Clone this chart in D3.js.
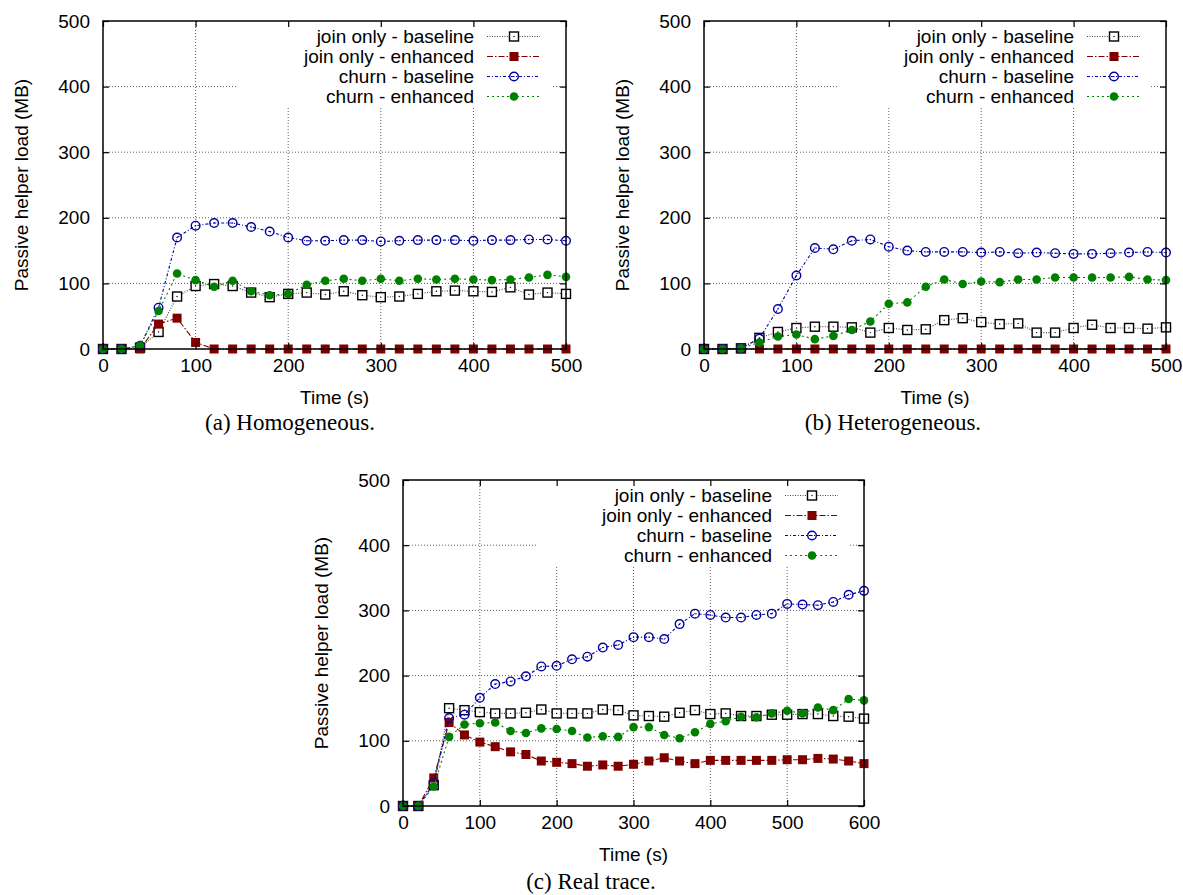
<!DOCTYPE html>
<html>
<head>
<meta charset="utf-8">
<script src="https://cdn.jsdelivr.net/npm/d3@7"></script>
<style>
  body { margin: 0; background: #fff; }
  text { font-family: "Liberation Sans", Arial, Helvetica, sans-serif; fill: #000; }
  .caption { font-family: "Liberation Serif", "Times New Roman", serif; }
</style>
</head>
<body>
<div id="chart"></div>
<script>
// time steps (s)
var timesAB = [0,20,40,60,80,100,120,140,160,180,200,220,240,260,280,300,320,340,360,380,400,420,440,460,480,500];
var timesC = [0,20,40,60,80,100,120,140,160,180,200,220,240,260,280,300,320,340,360,380,400,420,440,460,480,500,520,540,560,580,600];

var yTicks = [0,100,200,300,400,500];
var xTicksAB = [0,100,200,300,400,500];
var xTicksC = [0,100,200,300,400,500,600];

var seriesNames = ["join only - baseline", "join only - enhanced", "churn - baseline", "churn - enhanced"];

// (a) Homogeneous
var joinBaseA  = [0,0,2,26,80,96,99,96,86,79,84,86,83,88,82,79,80,84,88,89,88,87,94,83,86,84];
var joinEnhA   = [0,0,0,38,47,10,0,0,0,0,0,0,0,0,0,0,0,0,0,0,0,0,0,0,0,0];
var churnBaseA = [0,0,5,63,170,188,192,192,186,179,170,165,165,166,166,164,165,166,166,166,165,166,166,167,167,165];
var churnEnhA  = [0,0,5,58,115,105,95,104,88,82,84,98,104,107,104,107,104,107,106,107,106,105,106,109,113,110];

// (b) Heterogeneous
var joinBaseB  = [0,0,1,17,26,32,34,34,33,25,32,29,30,44,47,41,38,39,25,25,32,37,32,32,31,33];
var joinEnhB   = [0,0,0,0,0,0,0,0,0,0,0,0,0,0,0,0,0,0,0,0,0,0,0,0,0,0];
var churnBaseB = [0,0,1,16,61,112,154,152,165,167,156,150,148,148,148,147,148,146,147,146,145,145,146,147,148,147];
var churnEnhB  = [0,0,1,10,19,22,15,20,29,42,69,71,95,106,99,103,102,106,106,109,109,109,109,110,106,105];

// (c) Real trace
var joinBaseC  = [0,0,32,150,147,144,142,142,143,148,142,142,142,148,147,139,138,137,143,147,141,142,138,138,140,140,141,141,138,137,134];
var joinEnhC   = [0,0,43,128,109,98,91,83,79,69,67,65,61,63,61,64,69,74,69,65,70,70,70,70,70,71,71,73,72,69,65];
var churnBaseC = [0,0,35,135,140,166,187,191,199,214,215,225,229,243,247,259,259,256,279,295,293,289,289,293,295,310,309,308,313,324,330];
var churnEnhC  = [0,0,30,106,125,127,128,115,112,119,118,115,105,107,106,121,121,109,104,113,126,130,137,136,142,146,142,151,147,164,162];

// line / marker styles per series
var styles = [
  {color: "#000000", lineColor: "#444", dash: "1,1.5", marker: "squareOpen"},
  {color: "#800000", lineColor: "#800000", dash: "6,2,1.5,2", marker: "squareFilled"},
  {color: "#0000a0", lineColor: "#0000a0", dash: "3,2,1,2", marker: "circleOpen"},
  {color: "#008000", lineColor: "#008000", dash: "2,3", marker: "circleFilled"}
];

var svg = d3.select("#chart").append("svg")
  .attr("width", 1183)
  .attr("height", 895);

function drawMarker(g, type, color, x, y) {
  if (type == "squareOpen") {
    g.append("rect").attr("x", x - 4.5).attr("y", y - 4.5).attr("width", 9).attr("height", 9)
      .attr("fill", "#fff").attr("stroke", color).attr("stroke-width", 1.4);
    g.append("circle").attr("cx", x).attr("cy", y).attr("r", 0.7).attr("fill", color);
  } else if (type == "squareFilled") {
    g.append("rect").attr("x", x - 4.5).attr("y", y - 4.5).attr("width", 9).attr("height", 9)
      .attr("fill", color);
  } else if (type == "circleOpen") {
    g.append("circle").attr("cx", x).attr("cy", y).attr("r", 4.3)
      .attr("fill", "none").attr("stroke", color).attr("stroke-width", 1.4);
    g.append("circle").attr("cx", x).attr("cy", y).attr("r", 0.7).attr("fill", color);
  } else {
    g.append("circle").attr("cx", x).attr("cy", y).attr("r", 4.3).attr("fill", color);
  }
}

function drawPanel(p) {
  var w = p.right - p.left;
  var h = p.bottom - p.top;
  var g = svg.append("g").attr("transform", `translate(${p.left}, ${p.top})`);

  var x = d3.scaleLinear().domain([0, p.xMax]).range([0, w]);
  var y = d3.scaleLinear().domain([0, 500]).range([h, 0]);

  // grid
  g.selectAll(".gx").data(p.xTicks.slice(1, -1)).enter().append("line")
    .attr("x1", d => x(d)).attr("x2", d => x(d)).attr("y1", 0).attr("y2", h)
    .attr("stroke", "#333").attr("stroke-width", 0.8).attr("stroke-dasharray", "1,2");
  g.selectAll(".gy").data(yTicks.slice(1, -1)).enter().append("line")
    .attr("x1", 0).attr("x2", w).attr("y1", d => y(d)).attr("y2", d => y(d))
    .attr("stroke", "#333").attr("stroke-width", 0.8).attr("stroke-dasharray", "1,2");

  // legend box (opaque)
  var boxRight = w - 15;
  var boxLeft = boxRight - 313;
  g.append("rect").attr("x", boxLeft).attr("y", 0).attr("width", 313).attr("height", 85)
    .attr("fill", "#fff");

  // series
  p.series.forEach(function(vals, i) {
    var st = styles[i];
    var line = d3.line().x((d, k) => x(p.times[k])).y(d => y(d));
    g.append("path").datum(vals)
      .attr("d", line)
      .attr("fill", "none")
      .attr("stroke", st.lineColor)
      .attr("stroke-width", 1.1)
      .attr("stroke-dasharray", st.dash);
    var mg = g.append("g");
    vals.forEach(function(v, k) {
      drawMarker(mg, st.marker, st.color, x(p.times[k]), y(v));
    });
  });

  // axes with mirrored inward ticks
  var bottomAxis = d3.axisBottom(x).tickValues(p.xTicks).tickSize(-6).tickPadding(10);
  var leftAxis = d3.axisLeft(y).tickValues(yTicks).tickSize(-6).tickPadding(13);
  var topAxis = d3.axisTop(x).tickValues(p.xTicks).tickSize(-6).tickFormat("");
  var rightAxis = d3.axisRight(y).tickValues(yTicks).tickSize(-6).tickFormat("");

  [
    g.append("g").attr("transform", `translate(0, ${h})`).call(bottomAxis),
    g.append("g").call(leftAxis),
    g.append("g").call(topAxis),
    g.append("g").attr("transform", `translate(${w}, 0)`).call(rightAxis)
  ].forEach(function(a) {
    a.select(".domain").remove();
    a.selectAll("line").attr("stroke", "#000").attr("stroke-width", 1.2);
    a.selectAll("text").style("font-size", "19px").attr("fill", "#000")
      .style("font-family", '"Liberation Sans", Arial, sans-serif');
  });

  // frame
  g.append("rect").attr("x", 0).attr("y", 0).attr("width", w).attr("height", h)
    .attr("fill", "none").attr("stroke", "#000").attr("stroke-width", 1.5);

  // legend entries
  seriesNames.forEach(function(name, i) {
    var st = styles[i];
    var ly = 15.5 + i * 20;
    g.append("text").attr("x", boxLeft + 236).attr("y", ly).attr("dy", "0.35em")
      .attr("text-anchor", "end").style("font-size", "19px").text(name);
    g.append("line").attr("x1", boxLeft + 249).attr("x2", boxLeft + 302)
      .attr("y1", ly).attr("y2", ly)
      .attr("stroke", st.lineColor).attr("stroke-width", 1.1).attr("stroke-dasharray", st.dash);
    drawMarker(g, st.marker, st.color, boxLeft + 276, ly);
  });

  // axis titles
  g.append("text").attr("x", w / 2).attr("y", h + 48).attr("dy", "0.35em")
    .attr("text-anchor", "middle").style("font-size", "19px").text("Time (s)");
  g.append("text")
    .attr("transform", `translate(${p.yLabelX - p.left}, ${h / 2}) rotate(-90)`)
    .attr("dy", "0.35em").attr("text-anchor", "middle").style("font-size", "19px")
    .text("Passive helper load (MB)");

  // caption
  g.append("text").attr("class", "caption").attr("x", p.captionX - p.left).attr("y", h + p.captionDy)
    .attr("dy", "0.35em").attr("text-anchor", "middle").style("font-size", "23px")
    .text(p.caption);
}

drawPanel({left: 103, right: 566, top: 21, bottom: 349, xMax: 500, xTicks: xTicksAB, times: timesAB,
  series: [joinBaseA, joinEnhA, churnBaseA, churnEnhA], yLabelX: 21, captionX: 290, captionDy: 73,
  caption: "(a)  Homogeneous."});
drawPanel({left: 704, right: 1166, top: 21, bottom: 349, xMax: 500, xTicks: xTicksAB, times: timesAB,
  series: [joinBaseB, joinEnhB, churnBaseB, churnEnhB], yLabelX: 622, captionX: 893, captionDy: 73,
  caption: "(b)  Heterogeneous."});
drawPanel({left: 403, right: 864, top: 480, bottom: 806, xMax: 600, xTicks: xTicksC, times: timesC,
  series: [joinBaseC, joinEnhC, churnBaseC, churnEnhC], yLabelX: 321, captionX: 591, captionDy: 75,
  caption: "(c)  Real trace."});
</script>
</body>
</html>
